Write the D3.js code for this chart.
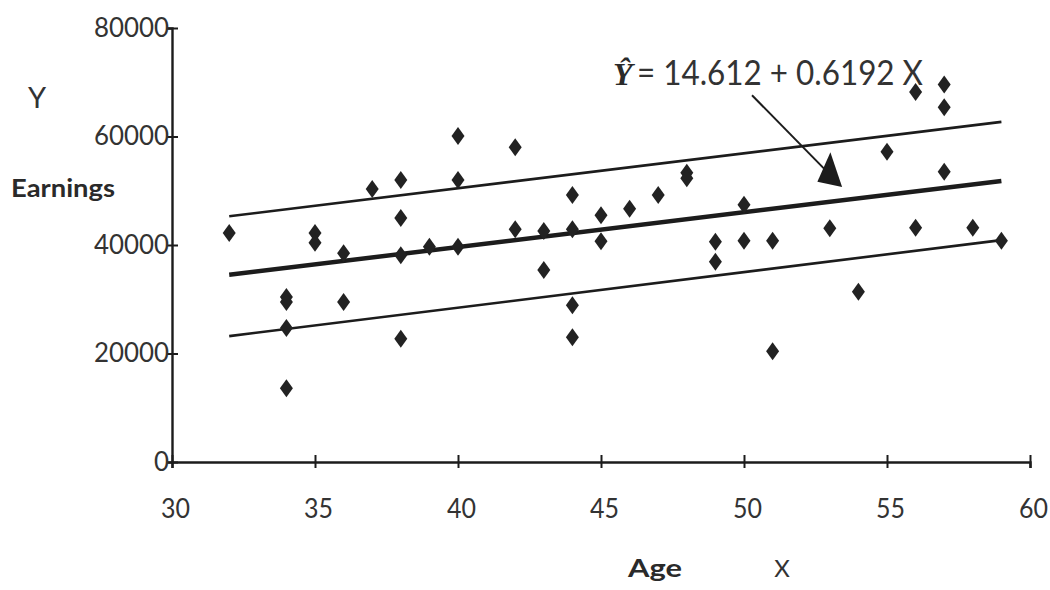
<!DOCTYPE html>
<html>
<head>
<meta charset="utf-8">
<script src="https://cdn.jsdelivr.net/npm/d3@7"></script>
<style>
  html, body { margin: 0; padding: 0; background: #ffffff; }
  svg { display: block; }
</style>
</head>
<body>
<svg id="chart" width="1050" height="590"></svg>
<script>
// ---- data ----
const ages = [32, 34, 34, 34, 34, 35, 35, 36, 36, 37, 38, 38, 38, 38, 39, 40, 40, 40,
              42, 42, 43, 43, 44, 44, 44, 44, 45, 45, 46, 47, 48, 48, 49, 49, 50, 50,
              51, 51, 53, 54, 55, 56, 56, 57, 57, 57, 58, 59];
const earnings = [42200, 30400, 29500, 24700, 13600, 42200, 40400, 38500, 29500, 50300,
                  52000, 45000, 38100, 22700, 39700, 60100, 52000, 39700,
                  58000, 42900, 42600, 35400, 49200, 42900, 28900, 23000, 45500, 40700,
                  46700, 49200, 53300, 52300, 40600, 36900, 47400, 40800,
                  40800, 20400, 43100, 31400, 57200, 68200, 43200, 69600, 65400, 53500,
                  43200, 40800];
const lineAges = [32, 59];
const fitValues = [34500, 51800];
const upperValues = [45300, 62700];
const lowerValues = [23200, 40900];
const xTicks = [30, 35, 40, 45, 50, 55, 60];
const yTicks = [0, 20000, 40000, 60000, 80000];
const yTickLabels = ["0", "20000", "40000", "60000", "80000"];
const equationText = "= 14.612 + 0.6192 X";
const arrowFrom = [50.28, 67600];
const arrowTo = [53.43, 50700];

// ---- layout ----
const svg = d3.select("#chart");
const ink = "#1c1c1c";
const textInk = "#333333";
const x = d3.scaleLinear().domain([30, 60]).range([172, 1030]);
const y = d3.scaleLinear().domain([0, 80000]).range([462, 28]);

// x axis
const gx = svg.append("g").attr("transform", `translate(0,${y(0)})`)
  .call(d3.axisBottom(x).tickValues(xTicks).tickSizeOuter(0).tickSize(6).tickFormat(d3.format("d")));
gx.select(".domain").attr("stroke", ink).attr("stroke-width", 2.4);
gx.selectAll(".tick line").attr("stroke", ink).attr("stroke-width", 2).attr("y1", -7).attr("y2", 6);
gx.selectAll(".tick text")
  .attr("dy", null).attr("y", 56).attr("x", 3)
  .attr("fill", textInk).attr("font-family", "Lato, 'DejaVu Sans', sans-serif")
  .attr("font-size", 27).attr("textLength", 29).attr("lengthAdjust", "spacingAndGlyphs");

// y axis
const gy = svg.append("g").attr("transform", `translate(${x(30)},0)`)
  .call(d3.axisLeft(y).tickValues(yTicks).tickSizeOuter(0).tickSize(5)
    .tickFormat((d, i) => yTickLabels[i]));
gy.select(".domain").attr("stroke", ink).attr("stroke-width", 2.4);
gy.selectAll(".tick line").attr("stroke", ink).attr("stroke-width", 2).attr("x1", -5).attr("x2", 6);
gy.selectAll(".tick text")
  .attr("dy", null).attr("y", 8).attr("x", -3)
  .attr("text-anchor", "end")
  .attr("fill", textInk).attr("font-family", "Lato, 'DejaVu Sans', sans-serif")
  .attr("font-size", 27)
  .each(function(d, i) {
    const s = yTickLabels[i];
    d3.select(this).attr("textLength", s.length * 15).attr("lengthAdjust", "spacingAndGlyphs");
  });

// lines
const line = d3.line().x(d => x(d[0])).y(d => y(d[1]));
const mk = vals => lineAges.map((a, i) => [a, vals[i]]);
svg.append("path").datum(mk(upperValues)).attr("d", line)
  .attr("fill", "none").attr("stroke", ink).attr("stroke-width", 2.6);
svg.append("path").datum(mk(lowerValues)).attr("d", line)
  .attr("fill", "none").attr("stroke", ink).attr("stroke-width", 2.6);
svg.append("path").datum(mk(fitValues)).attr("d", line)
  .attr("fill", "none").attr("stroke", ink).attr("stroke-width", 4.5);

// diamonds
const diamond = "M0,-9L6.5,0L0,9L-6.5,0Z";
svg.append("g").selectAll("path").data(ages.map((a, i) => [a, earnings[i]]))
  .join("path")
  .attr("d", diamond)
  .attr("transform", d => `translate(${x(d[0])},${y(d[1])})`)
  .attr("fill", "#222222");

// arrow annotation
const ax0 = x(arrowFrom[0]), ay0 = y(arrowFrom[1]);
const ax1 = x(arrowTo[0]), ay1 = y(arrowTo[1]);
const len = Math.hypot(ax1 - ax0, ay1 - ay0);
const ux = (ax1 - ax0) / len, uy = (ay1 - ay0) / len;
const nx = -uy, ny = ux;
const pt = (a, b) => [ax1 + ux * a + nx * b, ay1 + uy * a + ny * b];
svg.append("line")
  .attr("x1", ax0).attr("y1", ay0)
  .attr("x2", pt(-24, 0)[0]).attr("y2", pt(-24, 0)[1])
  .attr("stroke", ink).attr("stroke-width", 2);
svg.append("path")
  .attr("d", "M" + [pt(0, 0), pt(-33, -16), pt(-21, 14)].map(p => p.join(",")).join("L") + "Z")
  .attr("fill", ink);

// equation
svg.append("text").attr("x", 613).attr("y", 85)
  .attr("font-family", "'Liberation Serif', 'DejaVu Serif', serif")
  .attr("font-weight", "bold").attr("font-style", "italic")
  .attr("font-size", 32).attr("fill", "#2a2a2a").text("Ŷ");
svg.append("text").attr("x", 637).attr("y", 85)
  .attr("font-family", "Lato, 'DejaVu Sans', sans-serif")
  .attr("font-size", 34).attr("fill", textInk)
  .attr("textLength", 286).attr("lengthAdjust", "spacingAndGlyphs")
  .text(equationText);

// axis titles
svg.append("text").attr("x", 37).attr("y", 108).attr("text-anchor", "middle")
  .attr("font-family", "Lato, 'DejaVu Sans', sans-serif")
  .attr("font-size", 29).attr("fill", textInk).text("Y");
svg.append("text").attr("x", 11).attr("y", 197)
  .attr("font-family", "Lato, 'DejaVu Sans', sans-serif").attr("font-weight", "bold")
  .attr("font-size", 24).attr("fill", "#2a2a2a")
  .attr("textLength", 104).attr("lengthAdjust", "spacingAndGlyphs")
  .text("Earnings");
svg.append("text").attr("x", 628).attr("y", 577)
  .attr("font-family", "Lato, 'DejaVu Sans', sans-serif").attr("font-weight", "bold")
  .attr("font-size", 24).attr("fill", "#2a2a2a")
  .attr("textLength", 54).attr("lengthAdjust", "spacingAndGlyphs")
  .text("Age");
svg.append("text").attr("x", 782).attr("y", 577).attr("text-anchor", "middle")
  .attr("font-family", "Lato, 'DejaVu Sans', sans-serif")
  .attr("font-size", 24).attr("fill", textInk).text("X");
</script>
</body>
</html>
